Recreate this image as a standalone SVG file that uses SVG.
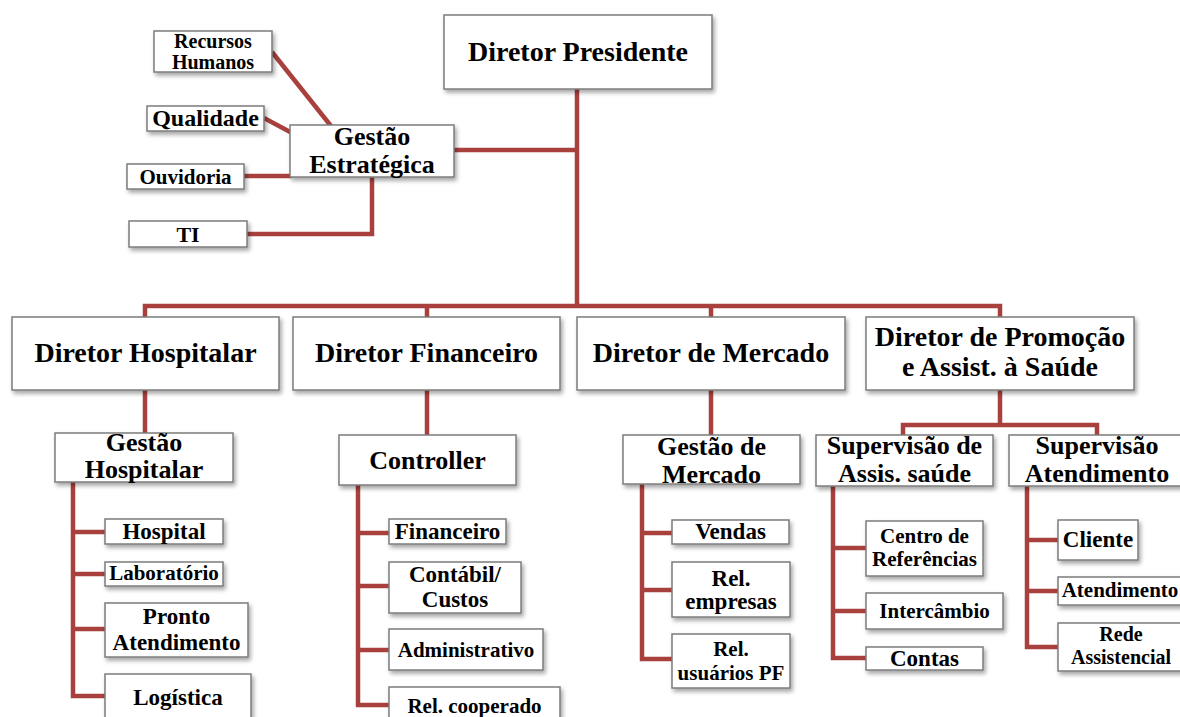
<svg xmlns="http://www.w3.org/2000/svg" width="1180" height="717" viewBox="0 0 1180 717">
  <defs>
    <filter id="shadow" x="-10%" y="-10%" width="130%" height="150%">
      <feDropShadow dx="2" dy="3" stdDeviation="2" flood-color="#000" flood-opacity="0.35"/>
    </filter>
    <style>
      .box { fill: #ffffff; stroke: #7c7c7c; stroke-width: 1.5; filter: url(#shadow); }
      .lbl { font-family: "Liberation Serif", "Times New Roman", serif; font-weight: bold; fill: #000; text-anchor: middle; }
      .f28 { font-size: 28px; }
      .f26 { font-size: 26px; }
      .f24 { font-size: 24px; }
      .f23 { font-size: 23px; }
      .f22 { font-size: 22px; }
      .f21 { font-size: 21px; }
      .f20 { font-size: 20px; }
      .link { fill: none; stroke: #a8413e; stroke-width: 4.5; stroke-linejoin: miter; }
    </style>
  </defs>
  <rect width="1180" height="717" fill="#ffffff"/>

  <!-- connectors -->
  <g id="connectors" class="link">
    <path d="M577,89 V306"/>
    <path d="M454,150 H577"/>
    <path d="M145,318 V306 H1000 V318 M427,306 V318 M711,306 V318"/>
    <path d="M145,390 V434"/>
    <path d="M427,390 V436"/>
    <path d="M711,390 V436"/>
    <path d="M1000,390 V425 M903,437 V425 H1097 V437"/>
    <path d="M272,52 L331,126"/>
    <path d="M264,118 L292,133"/>
    <path d="M244,176 H292"/>
    <path d="M247,234 H372 V176"/>
    <path d="M73,482 V696 H106 M73,532 H106 M73,574 H106 M73,629 H106"/>
    <path d="M358,485 V705 H390 M358,533 H390 M358,586 H390 M358,650 H390"/>
    <path d="M642,484 V659 H673 M642,533 H673 M642,590 H673"/>
    <path d="M833,486 V658 H867 M833,548 H867 M833,611 H867"/>
    <path d="M1027,486 V647 H1059 M1027,540 H1059 M1027,591 H1059"/>
  </g>

  <!-- top -->
  <g id="diretor-presidente">
    <rect class="box" x="444" y="15" width="268" height="74"/>
    <text class="lbl f28" x="578" y="61">Diretor Presidente</text>
  </g>

  <g id="gestao-estrategica">
    <rect class="box" x="290" y="125" width="164" height="52"/>
    <text class="lbl f26" x="372" y="145">Gestão</text>
    <text class="lbl f26" x="372" y="173">Estratégica</text>
  </g>
  <g id="recursos-humanos">
    <rect class="box" x="154" y="31" width="118" height="41"/>
    <text class="lbl f20" x="213" y="48">Recursos</text>
    <text class="lbl f20" x="213" y="69">Humanos</text>
  </g>
  <g id="qualidade">
    <rect class="box" x="147" y="106" width="117" height="25"/>
    <text class="lbl f24" x="205.5" y="126">Qualidade</text>
  </g>
  <g id="ouvidoria">
    <rect class="box" x="127" y="164" width="117" height="25"/>
    <text class="lbl f21" x="185.5" y="184">Ouvidoria</text>
  </g>
  <g id="ti">
    <rect class="box" x="129" y="221" width="118" height="26"/>
    <text class="lbl f22" x="188" y="242">TI</text>
  </g>

  <!-- directors -->
  <g id="diretor-hospitalar">
    <rect class="box" x="12" y="317" width="267" height="73"/>
    <text class="lbl f28" x="145.5" y="362">Diretor Hospitalar</text>
  </g>
  <g id="diretor-financeiro">
    <rect class="box" x="293" y="317" width="267" height="73"/>
    <text class="lbl f28" x="426.5" y="362">Diretor Financeiro</text>
  </g>
  <g id="diretor-mercado">
    <rect class="box" x="577" y="317" width="268" height="73"/>
    <text class="lbl f28" x="711" y="362">Diretor de Mercado</text>
  </g>
  <g id="diretor-promocao">
    <rect class="box" x="866" y="317" width="268" height="73"/>
    <text class="lbl f28" x="1000" y="346">Diretor de Promoção</text>
    <text class="lbl f28" x="1000" y="376">e Assist. à Saúde</text>
  </g>

  <!-- hospital branch -->
  <g id="gestao-hospitalar">
    <rect class="box" x="55" y="433" width="178" height="49"/>
    <text class="lbl f26" x="144" y="451">Gestão</text>
    <text class="lbl f26" x="144" y="478">Hospitalar</text>
  </g>
  <g id="hospital">
    <rect class="box" x="105" y="519" width="118" height="25"/>
    <text class="lbl f23" x="164" y="539">Hospital</text>
  </g>
  <g id="laboratorio">
    <rect class="box" x="105" y="562" width="118" height="24"/>
    <text class="lbl f21" x="164" y="580">Laboratório</text>
  </g>
  <g id="pronto-atendimento">
    <rect class="box" x="105" y="603" width="143" height="54"/>
    <text class="lbl f23" x="176.5" y="624">Pronto</text>
    <text class="lbl f23" x="176.5" y="650">Atendimento</text>
  </g>
  <g id="logistica">
    <rect class="box" x="105" y="674" width="146" height="50"/>
    <text class="lbl f23" x="178" y="705">Logística</text>
  </g>

  <!-- finance branch -->
  <g id="controller">
    <rect class="box" x="339" y="435" width="177" height="50"/>
    <text class="lbl f26" x="427.5" y="469">Controller</text>
  </g>
  <g id="financeiro">
    <rect class="box" x="389" y="519" width="117" height="25"/>
    <text class="lbl f23" x="447.5" y="539">Financeiro</text>
  </g>
  <g id="contabil-custos">
    <rect class="box" x="389" y="562" width="132" height="51"/>
    <text class="lbl f23" x="455" y="582">Contábil/</text>
    <text class="lbl f23" x="455" y="607">Custos</text>
  </g>
  <g id="administrativo">
    <rect class="box" x="389" y="629" width="154" height="41"/>
    <text class="lbl f21" x="466" y="657">Administrativo</text>
  </g>
  <g id="rel-cooperado">
    <rect class="box" x="389" y="687" width="171" height="40"/>
    <text class="lbl f21" x="474.5" y="713">Rel. cooperado</text>
  </g>

  <!-- market branch -->
  <g id="gestao-mercado">
    <rect class="box" x="623" y="435" width="177" height="49"/>
    <text class="lbl f26" x="711.5" y="455">Gestão de</text>
    <text class="lbl f26" x="711.5" y="483">Mercado</text>
  </g>
  <g id="vendas">
    <rect class="box" x="672" y="520" width="117" height="24"/>
    <text class="lbl f23" x="730.5" y="539">Vendas</text>
  </g>
  <g id="rel-empresas">
    <rect class="box" x="672" y="562" width="118" height="55"/>
    <text class="lbl f23" x="731" y="586">Rel.</text>
    <text class="lbl f23" x="731" y="609">empresas</text>
  </g>
  <g id="rel-usuarios-pf">
    <rect class="box" x="672" y="634" width="118" height="54"/>
    <text class="lbl f21" x="731" y="656">Rel.</text>
    <text class="lbl f21" x="731" y="680">usuários PF</text>
  </g>

  <!-- health promotion branch -->
  <g id="supervisao-assis-saude">
    <rect class="box" x="816" y="435" width="177" height="51"/>
    <text class="lbl f26" x="904.5" y="454">Supervisão de</text>
    <text class="lbl f26" x="904.5" y="482">Assis. saúde</text>
  </g>
  <g id="centro-referencias">
    <rect class="box" x="866" y="521" width="117" height="55"/>
    <text class="lbl f21" x="924.5" y="543">Centro de</text>
    <text class="lbl f21" x="924.5" y="566">Referências</text>
  </g>
  <g id="intercambio">
    <rect class="box" x="866" y="593" width="137" height="36"/>
    <text class="lbl f21" x="934.5" y="618">Intercâmbio</text>
  </g>
  <g id="contas">
    <rect class="box" x="866" y="647" width="117" height="23"/>
    <text class="lbl f23" x="924.5" y="666">Contas</text>
  </g>

  <g id="supervisao-atendimento">
    <rect class="box" x="1009" y="435" width="176" height="51"/>
    <text class="lbl f26" x="1097" y="454">Supervisão</text>
    <text class="lbl f26" x="1097" y="482">Atendimento</text>
  </g>
  <g id="cliente">
    <rect class="box" x="1058" y="520" width="80" height="40"/>
    <text class="lbl f23" x="1098" y="547">Cliente</text>
  </g>
  <g id="atendimento">
    <rect class="box" x="1058" y="577" width="126" height="28"/>
    <text class="lbl f21" x="1120" y="597">Atendimento</text>
  </g>
  <g id="rede-assistencial">
    <rect class="box" x="1058" y="623" width="126" height="48"/>
    <text class="lbl f20" x="1121" y="641">Rede</text>
    <text class="lbl f20" x="1121" y="664">Assistencial</text>
  </g>
</svg>
